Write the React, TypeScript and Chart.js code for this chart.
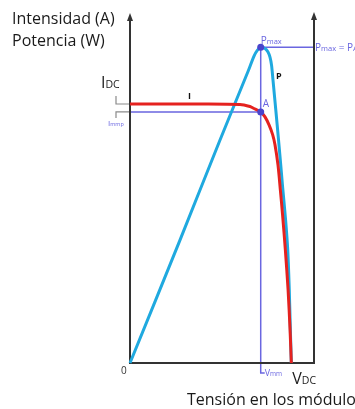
import { useEffect, useRef } from "react";
import { Chart, registerables } from "chart.js";

Chart.register(...registerables);

// Voltage (V) and current (A)
const voltageI = [0, 9.51, 14.95, 16.3, 16.71, 17.76, 18.34, 18.89, 19.39, 19.7, 20.11, 20.43, 20.73, 21.11, 21.48, 21.75, 21.92];
const current = [5.21, 5.21, 5.2, 5.16, 5.13, 5.05, 4.95, 4.79, 4.59, 4.39, 3.98, 3.48, 2.98, 2.27, 1.47, 0.66, 0];
// Voltage (V) and power (W)
const voltageP = [0, 6.79, 12.23, 16.06, 16.85, 17.32, 17.76, 18.34, 18.75, 19.02, 19.23, 19.43, 19.62, 19.81, 20.18, 20.48, 20.71, 21.14, 21.43, 21.64, 21.79, 21.92];
const power = [0, 35.3, 64.1, 83.9, 88.2, 89.9, 90.7, 90.4, 89.4, 87.9, 85.6, 81.3, 77.0, 72.7, 64.1, 56.9, 51.2, 41.1, 32.5, 21.0, 9.5, 0];

const Vmpp = 17.76;
const Impp = 5.05;
const Isc = 5.21;
const Pmax = 90.7;
const Voc = 21.92;

const FONT = "'Open Sans', sans-serif";
const PURPLE = "#6a66e0";
const AXIS = "#333333";

type Part = [string, number, string?];

function drawParts(ctx: CanvasRenderingContext2D, x: number, y: number, parts: Part[], color: string) {
  let cx = x;
  ctx.fillStyle = color;
  ctx.textBaseline = "alphabetic";
  ctx.textAlign = "left";
  for (const [t, size, weight] of parts) {
    ctx.font = `${weight || "normal"} ${size}px ${FONT}`;
    ctx.fillText(t, cx, y);
    cx += ctx.measureText(t).width;
  }
}

const overlay = {
  id: "overlay",
  beforeDatasetsDraw(chart: any) {
    const ctx: CanvasRenderingContext2D = chart.ctx;
    const { left, right, bottom } = chart.chartArea;
    const xs = chart.scales.x;
    const ys = chart.scales.y;
    const yp = chart.scales.y1;
    const xm = xs.getPixelForValue(Vmpp);
    const ya = ys.getPixelForValue(Impp);
    const yi = ys.getPixelForValue(Isc);
    const ypm = yp.getPixelForValue(Pmax);
    ctx.save();
    // guide lines
    ctx.strokeStyle = PURPLE;
    ctx.lineWidth = 1.5;
    ctx.beginPath();
    ctx.moveTo(left, ya);
    ctx.lineTo(xm, ya);
    ctx.moveTo(xm, ypm);
    ctx.lineTo(xm, bottom + 10);
    ctx.lineTo(xm + 4, bottom + 10);
    ctx.moveTo(xm, ypm);
    ctx.lineTo(right, ypm);
    ctx.stroke();
    // grey brackets
    ctx.strokeStyle = "#8a8a8a";
    ctx.lineWidth = 1.2;
    ctx.beginPath();
    ctx.moveTo(left - 14, yi - 8);
    ctx.lineTo(left - 14, yi);
    ctx.lineTo(left, yi);
    ctx.moveTo(left, ya);
    ctx.lineTo(left - 14, ya);
    ctx.lineTo(left - 14, ya + 6);
    ctx.stroke();
    // axes
    ctx.strokeStyle = AXIS;
    ctx.fillStyle = AXIS;
    ctx.lineWidth = 2;
    ctx.beginPath();
    ctx.moveTo(left, 18);
    ctx.lineTo(left, bottom);
    ctx.lineTo(right, bottom);
    ctx.lineTo(right, 17);
    ctx.stroke();
    const arrow = (x: number, tip: number) => {
      ctx.beginPath();
      ctx.moveTo(x, tip);
      ctx.lineTo(x - 3, tip + 8);
      ctx.lineTo(x + 3, tip + 8);
      ctx.closePath();
      ctx.fill();
    };
    arrow(left, 13);
    arrow(right, 12);
    ctx.restore();
  },
  afterDatasetsDraw(chart: any) {
    const ctx: CanvasRenderingContext2D = chart.ctx;
    const { left, right, bottom } = chart.chartArea;
    const xs = chart.scales.x;
    const ys = chart.scales.y;
    const yp = chart.scales.y1;
    const xm = xs.getPixelForValue(Vmpp);
    const ya = ys.getPixelForValue(Impp);
    const yi = ys.getPixelForValue(Isc);
    const ypm = yp.getPixelForValue(Pmax);
    const xoc = xs.getPixelForValue(Voc);
    ctx.save();
    // points
    ctx.fillStyle = "#4a44cc";
    ctx.beginPath();
    ctx.arc(xm, ypm, 3.5, 0, Math.PI * 2);
    ctx.fill();
    ctx.beginPath();
    ctx.arc(xm, ya, 3.5, 0, Math.PI * 2);
    ctx.fill();
    // titles
    drawParts(ctx, 12, 24, [["Intensidad (A)", 16]], "#1a1a1a");
    drawParts(ctx, 12, 46, [["Potencia (W)", 16]], "#1a1a1a");
    drawParts(ctx, left - 29, yi - 16, [["I", 16], ["DC", 10.5]], "#1a1a1a");
    drawParts(ctx, left - 22, ya + 14, [["I", 8], ["mmp", 5.5]], PURPLE);
    drawParts(ctx, left - 9, bottom + 11, [["0", 10]], "#333");
    // curve labels
    drawParts(ctx, 188, yi - 5, [["I", 9, "bold"]], "#111");
    drawParts(ctx, 276, 79, [["P", 9, "bold"]], "#111");
    drawParts(ctx, xm + 2, ya - 5, [["A", 10]], PURPLE);
    drawParts(ctx, xm, ypm - 3, [["P", 10], ["max", 7.5]], PURPLE);
    drawParts(ctx, right + 1, ypm + 4, [["P", 10], ["max", 7.5], [" = P", 10], ["A", 7.5]], PURPLE);
    drawParts(ctx, xm + 4, bottom + 13, [["V", 9], ["mm", 6.5]], PURPLE);
    drawParts(ctx, xoc + 1, bottom + 21, [["V", 16], ["DC", 10.5]], "#1a1a1a");
    drawParts(ctx, 187, bottom + 42, [["Tensión en los módulos", 16]], "#1a1a1a");
    ctx.restore();
  },
};

export default function App() {
  const ref = useRef<HTMLCanvasElement | null>(null);
  useEffect(() => {
    if (!ref.current) return;
    const chart = new Chart(ref.current, {
      type: "line",
      data: {
        datasets: [
          {
            label: "I",
            data: voltageI.map((v, i) => ({ x: v, y: current[i] })),
            borderColor: "#e5221f",
            borderWidth: 3,
            pointRadius: 0,
            tension: 0.3,
            yAxisID: "y",
            clip: false as any,
          },
          {
            label: "P",
            data: voltageP.map((v, i) => ({ x: v, y: power[i] })),
            borderColor: "#1fa9df",
            borderWidth: 3,
            pointRadius: 0,
            tension: 0.3,
            yAxisID: "y1",
            clip: false as any,
          },
        ],
      },
      options: {
        animation: false,
        responsive: false,
        layout: { padding: { left: 130, right: 41, top: 15, bottom: 46 } },
        plugins: { legend: { display: false }, tooltip: { enabled: false } },
        scales: {
          x: { type: "linear", min: 0, max: 25, display: false },
          y: { type: "linear", min: 0, max: 7, display: false },
          y1: { type: "linear", min: 0, max: 100, display: false, position: "right" },
        },
      },
      plugins: [overlay],
    });
    return () => chart.destroy();
  }, []);
  return (
    <div style={{ position: "absolute", left: 0, top: 0, width: 355, height: 409, background: "#fff" }}>
      <canvas ref={ref} width={355} height={409} />
    </div>
  );
}
